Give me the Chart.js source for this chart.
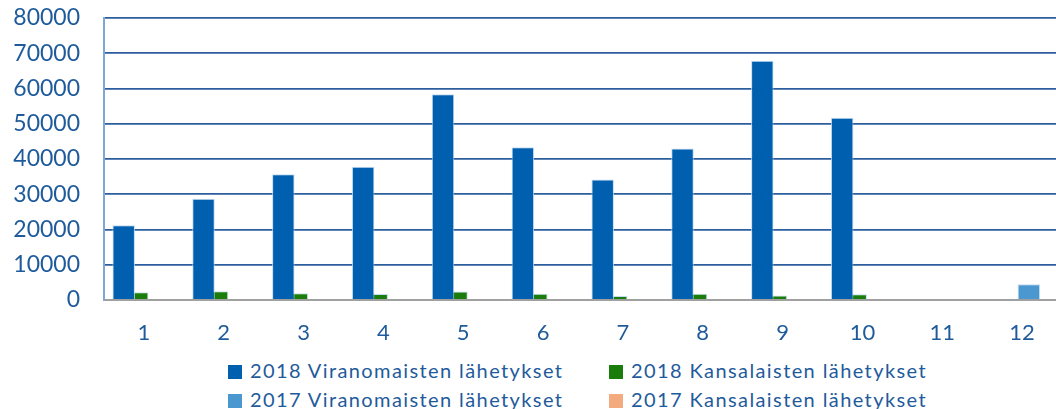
<!DOCTYPE html>
<html>
<head>
<meta charset="utf-8">
<script src="https://cdn.jsdelivr.net/npm/chart.js@4"></script>
<style>
  html, body { margin: 0; padding: 0; background: #fff; overflow: hidden; width: 1056px; height: 409px; }
  #wrap { position: absolute; left: 0; top: 0; width: 1064px; height: 350px; }
  #legend { position: absolute; left: 228px; top: 356px; width: 800px;
            font-family: Lato, "Open Sans", sans-serif; font-size: 20px; letter-spacing: 1.4px; color: #1F5B9B; }
  .item { position: absolute; white-space: nowrap; line-height: 29px; }
  .sw { display: inline-block; width: 14px; height: 14px; margin-right: 8px; vertical-align: -1px; }
</style>
</head>
<body>
<div id="wrap"><canvas id="c" width="1064" height="350"></canvas></div>
<div id="legend"></div>
<script>
const months = ['1', '2', '3', '4', '5', '6', '7', '8', '9', '10', '11', '12'];
const viranomaiset2018 = [21200, 28700, 35700, 37800, 58400, 43300, 34200, 43000, 67900, 51700, null, null];
const kansalaiset2018 = [2200, 2500, 1900, 1700, 2400, 1800, 1100, 1800, 1300, 1600, null, null];
const viranomaiset2017 = [null, null, null, null, null, null, null, null, null, null, null, 4500];
const kansalaiset2017 = [null, null, null, null, null, null, null, null, null, null, null, 300];
const yTicks = [0, 10000, 20000, 30000, 40000, 50000, 60000, 70000, 80000];

const seriesNames = [
    '2018 Viranomaisten lähetykset',
    '2018 Kansalaisten lähetykset',
    '2017 Viranomaisten lähetykset',
    '2017 Kansalaisten lähetykset'
];
const seriesColors = ['#005FAF', '#1A7C0B', '#4B98D0', '#F3AA7E'];
const seriesData = [viranomaiset2018, kansalaiset2018, viranomaiset2017, kansalaiset2017];

const textColor = '#1F5B9B';

const datasets = seriesNames.map((name, i) => ({
    label: name,
    data: seriesData[i],
    backgroundColor: seriesColors[i],
    borderColor: 'rgba(190,215,240,0.9)',
    borderWidth: 1,
    barPercentage: 1.667,
    categoryPercentage: 0.676
}));

const chart = new Chart(document.getElementById('c'), {
    type: 'bar',
    data: { labels: months, datasets: datasets },
    options: {
        responsive: false,
        animation: false,
        layout: { padding: { left: 9, right: 2, top: 18, bottom: 0 } },
        plugins: { legend: { display: false }, tooltip: { enabled: false } },
        scales: {
            x: {
                grid: { display: false, drawTicks: false },
                border: { color: '#A0A0A0', width: 2 },
                ticks: { color: textColor, font: { family: 'Lato', size: 22 }, padding: 20 },
                afterFit: s => { s.height = 50; }
            },
            y: {
                min: 0, max: 80000,
                afterBuildTicks: s => { s.ticks = yTicks.map(v => ({ value: v })); },
                // invisible tick marks give the gap between labels and axis
                grid: { color: '#2C5E9E', lineWidth: 1.8, drawTicks: true, tickLength: 24, tickColor: 'rgba(0,0,0,0)' },
                border: { color: '#7FA6D4', width: 2 },
                ticks: { color: textColor, font: { family: 'Lato', size: 23 }, padding: 0,
                         callback: v => String(v) },
                afterFit: s => { s.width = 95; }
            }
        }
    }
});

// legend in two columns, two rows
const legend = document.getElementById('legend');
const spots = [[0, 0], [381, 0], [0, 29], [381, 29]];
seriesNames.forEach((name, i) => {
    const el = document.createElement('div');
    el.className = 'item';
    el.style.left = spots[i][0] + 'px';
    el.style.top = spots[i][1] + 'px';
    el.innerHTML = '<span class="sw" style="background:' + seriesColors[i] + '"></span>' + name;
    legend.appendChild(el);
});
</script>
</body>
</html>
